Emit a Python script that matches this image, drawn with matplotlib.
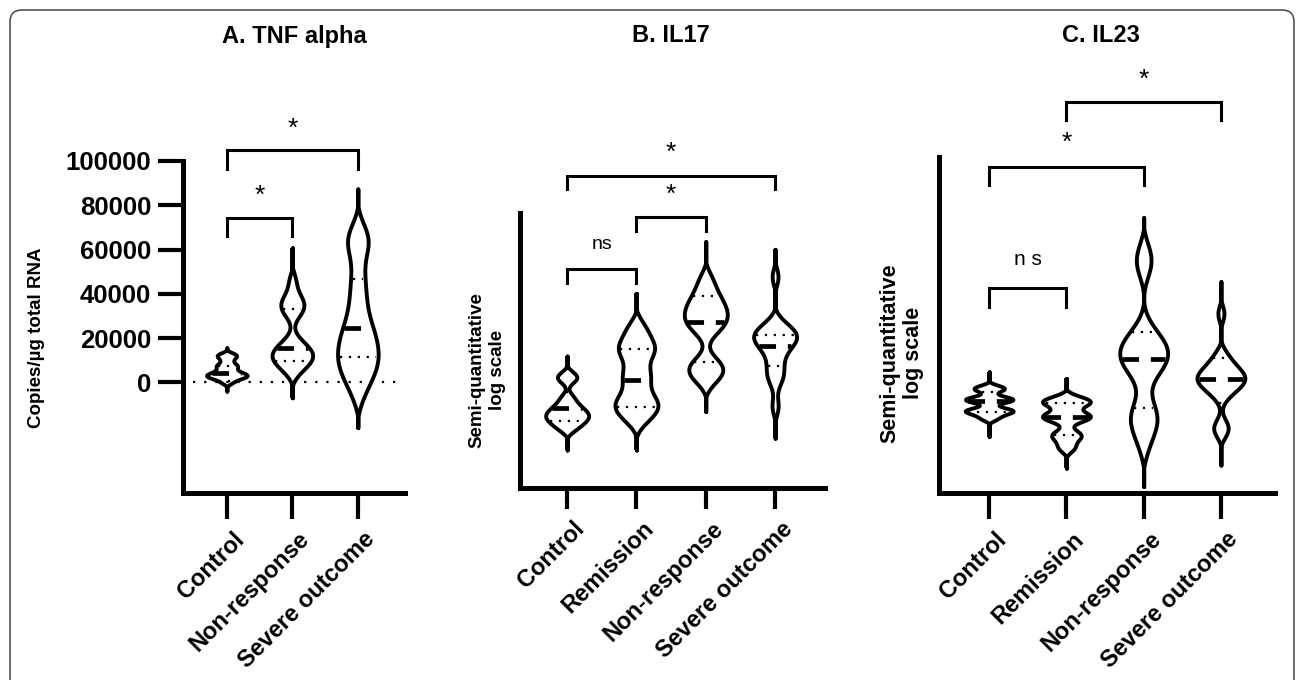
import numpy as np
import matplotlib
matplotlib.use("Agg")
import matplotlib.pyplot as plt
import matplotlib.transforms as mtrans
from matplotlib import cbook, mlab
from matplotlib.patches import FancyBboxPatch

plt.rcParams['font.family'] = ['Liberation Sans', 'DejaVu Sans']

# ---------------- data ----------------
# A. TNF alpha (copies/ug total RNA)
a_groups = ["Control", "Non-response", "Severe outcome"]
a_control = [-4000, 0, 1800, 2600, 3000, 3400, 4200, 5500, 7200, 7800, 10000,
             12000, 12500, 15600]
a_nonresp = [-7000, 5000, 8000, 10000, 11500, 12500, 14000, 16000, 19000, 31000,
             33500, 36000, 38500, 46000, 60800]
a_severe = [-20500, -5000, 2000, 5000, 8000, 11000, 14000, 17000, 20000, 24000,
            28000, 35000, 42000, 50000, 61000, 64000, 68000, 87400]
a_median = [4400, 15650, 24700]
a_q1 = [750, 9800, 11300]
a_q3 = [7400, 33300, 46800]
a_yticks = [0, 20000, 40000, 60000, 80000, 100000]

# B. IL17 (semi-quantitative, log scale)
b_groups = ["Control", "Remission", "Non-response", "Severe outcome"]
b_control = [1.38, 2.15, 2.35, 2.5, 2.6, 2.7, 2.85, 3.0, 3.3, 3.95, 4.1, 4.8]
b_remission = [1.38, 2.45, 2.75, 2.95, 3.1, 3.3, 3.7, 4.05, 4.3, 4.8, 5.0, 5.2,
               5.5, 5.9, 7.08]
b_nonresp = [2.78, 3.95, 4.2, 4.4, 4.6, 5.7, 5.95, 6.15, 6.35, 6.55, 6.8, 7.1,
             7.6, 8.96]
b_severe = [1.81, 2.96, 3.9, 4.2, 4.6, 5.0, 5.25, 5.4, 5.5, 5.6, 5.75, 5.95,
            7.68, 8.68]
b_median = [2.90, 3.93, 6.05, 5.16]
b_q1 = [2.45, 2.96, 4.58, 4.42]
b_q3 = [3.50, 5.04, 6.98, 5.56]

# C. IL23 (semi-quantitative, log scale)
c_groups = ["Control", "Remission", "Non-response", "Severe outcome"]
c_control = [1.68, 2.23, 2.4, 2.45, 2.48, 2.75, 2.78, 2.82, 3.08, 3.14, 3.61]
c_remission = [0.74, 1.35, 1.65, 1.78, 2.22, 2.27, 2.32, 2.67, 2.72, 2.77, 3.41]
c_nonresp = [0.19, 1.5, 2.1, 2.3, 2.45, 3.6, 3.85, 4.0, 4.15, 4.3, 4.5, 4.75,
             6.8, 7.05, 8.2]
c_severe = [0.83, 1.85, 2.0, 2.9, 3.15, 3.25, 3.35, 3.45, 3.55, 3.6, 3.85, 4.1,
            5.34, 6.29]
c_median = [2.75, 2.27, 3.99, 3.40]
c_q1 = [2.42, 1.72, 2.52, 2.68]
c_q3 = [3.0, 2.67, 4.8, 4.02]

# significance brackets: (group i, group j, leg bottom, bar top, label, label y)
a_sig = [(0, 1, 66100, 74350, "*", 84100),
         (0, 2, 96200, 104900, "*", 114500)]
b_sig = [(0, 1, 7.47, 7.95, "ns", 8.84),
         (1, 2, 9.36, 9.87, "*", 10.65),
         (0, 3, 10.86, 11.35, "*", 12.17)]
c_sig = [(0, 1, 5.55, 6.11, "n s", 6.94),
         (0, 2, 9.17, 9.71, "*", 10.41),
         (1, 3, 11.1, 11.65, "*", 12.29)]

BW = 0.3       # kde smoothing (fraction of sd)
FLOOR = 0.06   # density below this fraction of the peak is drawn as a thin tail


def density(x, coords):
    # body from the inner points, the extreme values only stretch the tails
    core = np.sort(x)[1:-1]
    return mlab.GaussianKDE(core, BW).evaluate(coords)


def violins(ax, samples, med, q1, q3):
    stats = cbook.violin_stats(samples, density, points=500)
    for st in stats:
        st['vals'] = np.clip(st['vals'] - FLOOR * st['vals'].max(), 0, None)
    pos = np.arange(len(samples))
    ax.vlines(pos, [min(s) for s in samples], [max(s) for s in samples],
              color="black", lw=2.8, zorder=1)
    parts = ax.violin(stats, positions=pos, widths=0.62, showmeans=False,
                      showextrema=False, showmedians=False)
    for body in parts['bodies']:
        body.set_facecolor("white")
        body.set_edgecolor("black")
        body.set_linewidth(2.8)
        body.set_alpha(1)
        body.set_zorder(2)
    for i, st in enumerate(stats):
        scale = 0.31 / st['vals'].max()
        hw = np.interp(med[i], st['coords'], st['vals']) * scale - 0.02
        ax.hlines(med[i], pos[i] - hw, pos[i] + hw, color="black", lw=3.4,
                  linestyles=(0, (3.5, 2.5)), zorder=3)
        for q in (q1[i], q3[i]):
            hw = np.interp(q, st['coords'], st['vals']) * scale - 0.03
            ax.hlines(q, pos[i] - hw, pos[i] + hw, color="black", lw=1.6,
                      linestyles=(0, (1, 3)), zorder=3)


def brackets(ax, sig, size):
    for i, j, lo, hi, lab, ty in sig:
        ax.plot([i, i, j, j], [lo, hi, hi, lo], color="black", lw=2.2,
                clip_on=False, solid_joinstyle="miter")
        if lab == "*":
            ax.text((i + j) / 2, ty, lab, ha="center", va="center", fontsize=19)
        else:
            ax.text((i + j) / 2, ty, lab, ha="center", va="center", fontsize=size)


def style_axis(ax, groups, ticklen):
    for s in ("top", "right"):
        ax.spines[s].set_visible(False)
    for s in ("left", "bottom"):
        ax.spines[s].set_linewidth(3.6)
    ax.set_xticks(np.arange(len(groups)))
    ax.set_xticklabels(groups, rotation=45, ha="right", va="top",
                       rotation_mode="anchor", fontsize=17, fontweight="bold")
    ax.tick_params(axis="x", length=ticklen, width=3, pad=6)
    off = mtrans.ScaledTranslation(4 / 72, 0, ax.figure.dpi_scale_trans)
    for lab in ax.get_xticklabels():
        lab.set_transform(lab.get_transform() + off)


fig = plt.figure(figsize=(12.96, 6.8), dpi=100)
W, H = 1296, 680


def add_ax(l, t, r, b):
    return fig.add_axes([l / W, 1 - b / H, (r - l) / W, (b - t) / H])


# ---- A
ax = add_ax(183, 161, 405, 493)
violins(ax, [a_control, a_nonresp, a_severe], a_median, a_q1, a_q3)
ax.hlines(0, -0.52, 2.61, color="black", lw=1.6, linestyles=(0, (1, 4)), zorder=4)
ax.set_xlim(-0.67, 2.72)
ax.set_ylim(-50000, 100000)
ax.set_yticks(a_yticks)
ax.set_yticklabels([str(v) for v in a_yticks], fontsize=18.5, fontweight="bold")
ax.tick_params(axis="y", length=18, width=3, pad=5)
style_axis(ax, a_groups, 19)
brackets(ax, a_sig, 14)

# ---- B
ax = add_ax(520, 213, 825, 488)
violins(ax, [b_control, b_remission, b_nonresp, b_severe], b_median, b_q1, b_q3)
ax.set_xlim(-0.68, 3.72)
ax.set_ylim(0, 10)
ax.set_yticks([])
style_axis(ax, b_groups, 15)
brackets(ax, b_sig, 14)

# ---- C
ax = add_ax(939, 157, 1275, 493)
violins(ax, [c_control, c_remission, c_nonresp, c_severe], c_median, c_q1, c_q3)
ax.set_xlim(-0.65, 3.70)
ax.set_ylim(0, 10)
ax.set_yticks([])
style_axis(ax, c_groups, 19)
brackets(ax, c_sig, 15)

# titles and axis labels
fig.text(294 / W, 1 - 36 / H, "A. TNF alpha", ha="center", va="center",
         fontsize=17, fontweight="bold")
fig.text(671 / W, 1 - 36 / H, "B. IL17", ha="center", va="center",
         fontsize=17, fontweight="bold")
fig.text(1101 / W, 1 - 36 / H, "C. IL23", ha="center", va="center",
         fontsize=17, fontweight="bold")
fig.text(37 / W, 1 - 338 / H, "Copies/µg total RNA", rotation=90, ha="center",
         va="center", fontsize=13.5, fontweight="bold")
fig.text(487 / W, 1 - 370 / H, "Semi-quantitative\nlog scale", rotation=90,
         ha="center", va="center", fontsize=13.5, fontweight="bold",
         multialignment="center", linespacing=1.25)
fig.text(902 / W, 1 - 353 / H, "Semi-quantitative\nlog scale", rotation=90,
         ha="center", va="center", fontsize=15.5, fontweight="bold",
         multialignment="center", linespacing=1.15)

# rounded frame around the figure
frame = FancyBboxPatch((0.10, -0.3), 12.84, 7.0, boxstyle="round,pad=0,rounding_size=0.12",
                       transform=fig.dpi_scale_trans, fill=False,
                       edgecolor="#555555", lw=1.2)
fig.add_artist(frame)

fig.savefig("out.png", dpi=100)
